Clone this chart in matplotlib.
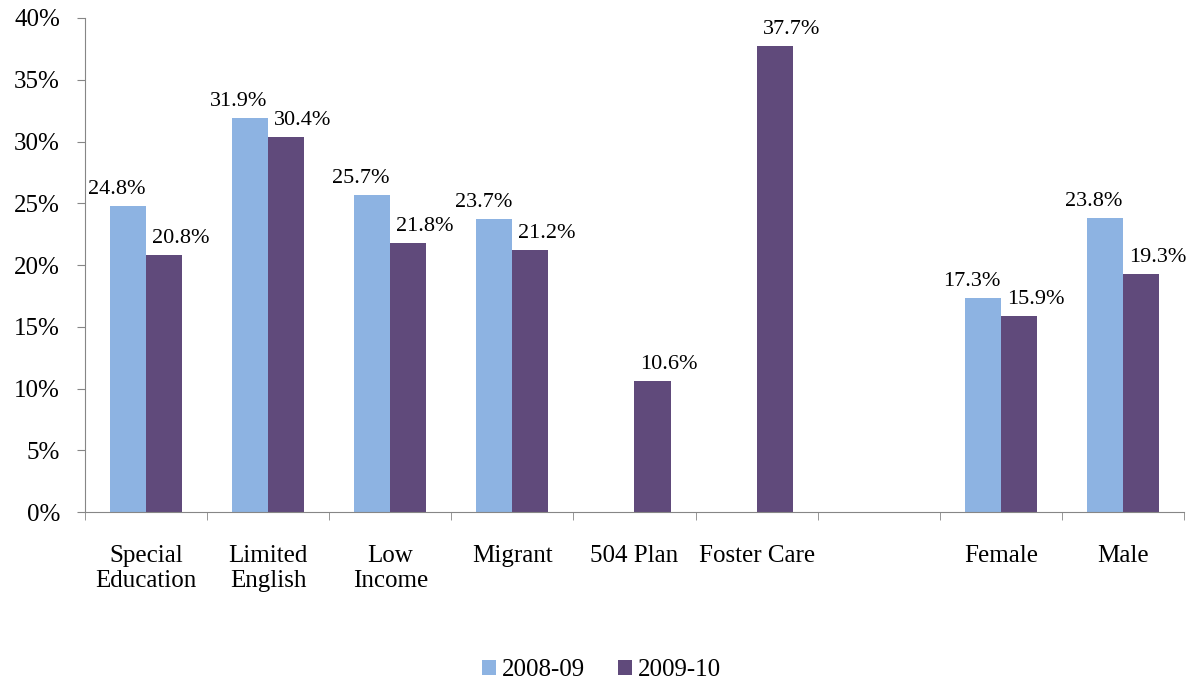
import numpy as np
import matplotlib.pyplot as plt

# datos
categories = ["Special\nEducation", "Limited\nEnglish", "Low\nIncome", "Migrant",
              "504 Plan", "Foster Care", "", "Female", "Male"]
series_names = ["2008-09", "2009-10"]
values_0809 = [24.8, 31.9, 25.7, 23.7, np.nan, np.nan, np.nan, 17.3, 23.8]
values_0910 = [20.8, 30.4, 21.8, 21.2, 10.6, 37.7, np.nan, 15.9, 19.3]
colors = ["#8DB3E2", "#604A7B"]

plt.rcParams['font.family'] = ['Liberation Serif', 'DejaVu Serif']

fig = plt.figure(figsize=(11.95, 6.87), dpi=100)
ax = fig.add_axes([0.0711, 0.2547, 0.9197, 0.7191])

x = np.arange(len(categories))
w = 0.295
ax.bar(x - w / 2, values_0809, w, color=colors[0], label=series_names[0])
ax.bar(x + w / 2, values_0910, w, color=colors[1], label=series_names[1])

# etiquetas de datos
for xi, v in zip(x, values_0809):
    if not np.isnan(v):
        ax.annotate(f"{v:.1f}%", (xi - w / 2, v), xytext=(-8, 5), textcoords="offset points",
                    ha="center", va="bottom", fontsize=16)
for xi, v in zip(x, values_0910):
    if not np.isnan(v):
        ax.annotate(f"{v:.1f}%", (xi + w / 2, v), xytext=(12, 5), textcoords="offset points",
                    ha="center", va="bottom", fontsize=16)

ax.set_xlim(-0.5, len(categories) - 0.5)
ax.set_ylim(0, 40)
ax.set_yticks(range(0, 41, 5))
ax.set_yticklabels([f"{t}%" for t in range(0, 41, 5)], fontsize=18)

ax.set_xticks(x)
ax.set_xticklabels(categories, fontsize=18, linespacing=1.15)
ax.set_xticks(np.arange(-0.5, len(categories), 1), minor=True)
ax.tick_params(axis='x', which='major', length=0, pad=24)
ax.tick_params(axis='x', which='minor', length=6, color='#868686', direction='out')
ax.tick_params(axis='y', length=6, color='#868686', direction='out', pad=12)

for s in ['top', 'right']:
    ax.spines[s].set_visible(False)
for s in ['left', 'bottom']:
    ax.spines[s].set_color('#868686')

ax.legend(loc='center', bbox_to_anchor=(0.47, -0.32), ncol=2, frameon=False,
          fontsize=18, handlelength=0.55, handleheight=0.55, handletextpad=0.25, columnspacing=1.3)

plt.savefig("out.png", dpi=100)
